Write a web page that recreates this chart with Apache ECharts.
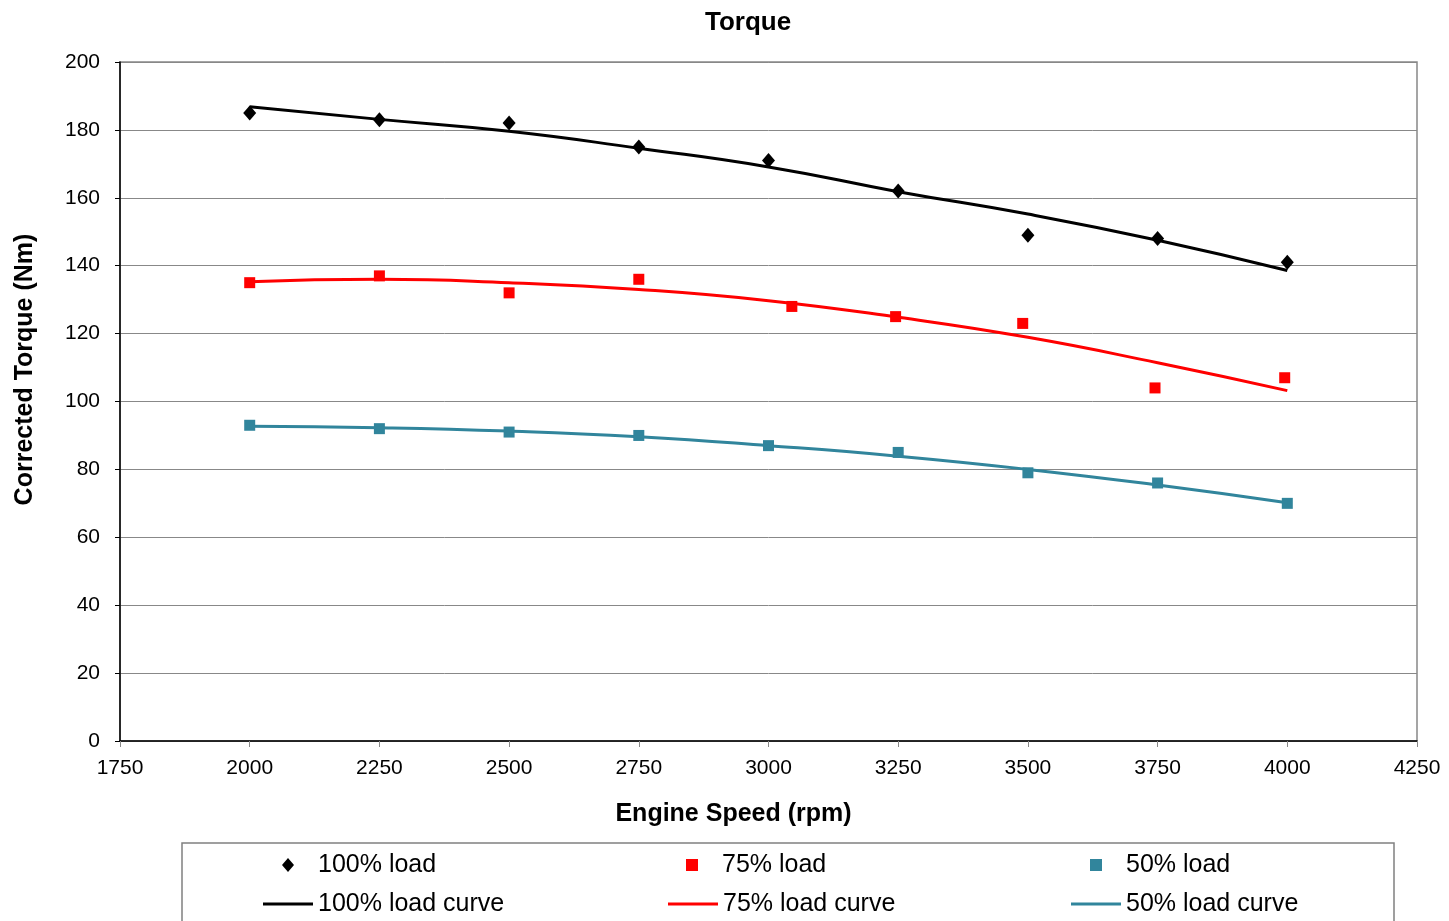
<!DOCTYPE html>
<html>
<head>
<meta charset="utf-8">
<script src="https://cdn.jsdelivr.net/npm/echarts@6/dist/echarts.min.js"></script>
<style>html,body{margin:0;padding:0;background:#fff}#c{width:1449px;height:921px}</style>
</head>
<body>
<div id="c"></div>
<script>
// Measured points
const speeds100 = [2000, 2250, 2500, 2750, 3000, 3250, 3500, 3750, 4000];
const load100 = [185, 183, 182, 175, 171, 162, 149, 148, 141];
const speeds75 = [2000, 2250, 2500, 2750, 3045, 3245, 3490, 3745, 3995];
const load75 = [135, 137, 132, 136, 128, 125, 123, 104, 107];
const speeds50 = [2000, 2250, 2500, 2750, 3000, 3250, 3500, 3750, 4000];
const load50 = [93, 92, 91, 90, 87, 85, 79, 76, 70];
// Fitted curves
const curveSpeeds = [2000, 2250, 2500, 2750, 3000, 3250, 3500, 3750, 4000];
const curve100 = [186.8, 183.1, 179.6, 174.6, 169.1, 161.8, 155.2, 147.5, 138.6];
const curve75 = [135.3, 136.0, 135.0, 133.0, 129.7, 124.8, 118.9, 111.4, 103.2];
const curve50 = [92.7, 92.3, 91.3, 89.6, 87.0, 83.9, 80.0, 75.4, 70.2];
const xTicks = [1750, 4250, 250];
const yTicks = [0, 200, 20];

const pairs = (xs, ys) => xs.map((x, i) => [x, ys[i]]);
const FONT = "Arial, 'Liberation Sans', sans-serif";
const BLACK = '#000000', RED = '#ff0000', TEAL = '#31859c';

const chart = echarts.init(document.getElementById('c'));
const legTxt = { fontFamily: FONT, fontSize: 25, color: '#000', lineHeight: 26 };
function markLegend(left, name, icon, w, h) {
  return { orient: 'horizontal', left: left, top: 852, padding: 0, itemWidth: w, itemHeight: h,
    selectedMode: false, data: [{ name: name, icon: icon }],
    itemStyle: { opacity: 1 },
    textStyle: Object.assign({ padding: [0, 0, 0, 19] }, legTxt) };
}
function lineLegend(left, name) {
  return { orient: 'horizontal', left: left, top: 891, padding: 0, itemWidth: 50, itemHeight: 3,
    selectedMode: false, data: [{ name: name, icon: 'rect' }], textStyle: legTxt };
}
chart.setOption({
  animation: false,
  backgroundColor: '#fff',
  title: {
    text: 'Torque', left: 700, top: 5,
    textStyle: { fontFamily: FONT, fontSize: 26, fontWeight: 'bold', color: '#000' }
  },
  grid: { left: 120, right: 32, top: 62, bottom: 180, show: true, borderColor: '#888', borderWidth: 1.5 },
  legend: [
    markLegend(282, '100% load', 'diamond', 12, 14),
    markLegend(686, '75% load', 'rect', 12, 12),
    markLegend(1090, '50% load', 'rect', 12, 12),
    lineLegend(263, '100% load curve'),
    lineLegend(668, '75% load curve'),
    lineLegend(1071, '50% load curve')
  ],
  graphic: [{
    type: 'rect', shape: { x: 182, y: 843, width: 1212, height: 100 },
    style: { fill: 'none', stroke: '#808080', lineWidth: 1.5 }, silent: true
  }],
  xAxis: {
    type: 'value', min: xTicks[0], max: xTicks[1], interval: xTicks[2],
    name: 'Engine Speed (rpm)', nameLocation: 'middle', nameGap: 61,
    nameTextStyle: { fontFamily: FONT, fontSize: 25, fontWeight: 'bold', color: '#000', padding: [0, 70, 0, 0] },
    axisLine: { show: true, lineStyle: { color: '#000', width: 1.5 } },
    axisTick: { show: true, length: 6, lineStyle: { color: '#888' } },
    axisLabel: { fontFamily: FONT, fontSize: 21, color: '#000', margin: 17, formatter: v => String(v) },
    splitLine: { show: false }
  },
  yAxis: {
    type: 'value', min: yTicks[0], max: yTicks[1], interval: yTicks[2],
    name: 'Corrected Torque (Nm)', nameLocation: 'middle', nameGap: 82,
    nameTextStyle: { fontFamily: FONT, fontSize: 25, fontWeight: 'bold', color: '#000', padding: [0, 0, 0, 64] },
    axisLine: { show: true, lineStyle: { color: '#000', width: 1.5 } },
    axisTick: { show: true, length: 5, lineStyle: { color: '#000' } },
    axisLabel: { fontFamily: FONT, fontSize: 21, color: '#000', margin: 20 },
    splitLine: { show: true, lineStyle: { color: '#888', width: 1 } }
  },
  series: [
    { name: '100% load curve', type: 'line', smooth: true, symbol: 'none', showSymbol: false,
      data: pairs(curveSpeeds, curve100), lineStyle: { color: BLACK, width: 3 }, itemStyle: { color: BLACK } },
    { name: '75% load curve', type: 'line', smooth: true, symbol: 'none', showSymbol: false,
      data: pairs(curveSpeeds, curve75), lineStyle: { color: RED, width: 3 }, itemStyle: { color: RED } },
    { name: '50% load curve', type: 'line', smooth: true, symbol: 'none', showSymbol: false,
      data: pairs(curveSpeeds, curve50), lineStyle: { color: TEAL, width: 3 }, itemStyle: { color: TEAL } },
    { name: '100% load', type: 'scatter', symbol: 'diamond', symbolSize: [13, 15],
      data: pairs(speeds100, load100), itemStyle: { color: BLACK, opacity: 1 } },
    { name: '75% load', type: 'scatter', symbol: 'rect', symbolSize: 11,
      data: pairs(speeds75, load75), itemStyle: { color: RED, opacity: 1 } },
    { name: '50% load', type: 'scatter', symbol: 'rect', symbolSize: 11,
      data: pairs(speeds50, load50), itemStyle: { color: TEAL, opacity: 1 } }
  ]
});
</script>
</body>
</html>
